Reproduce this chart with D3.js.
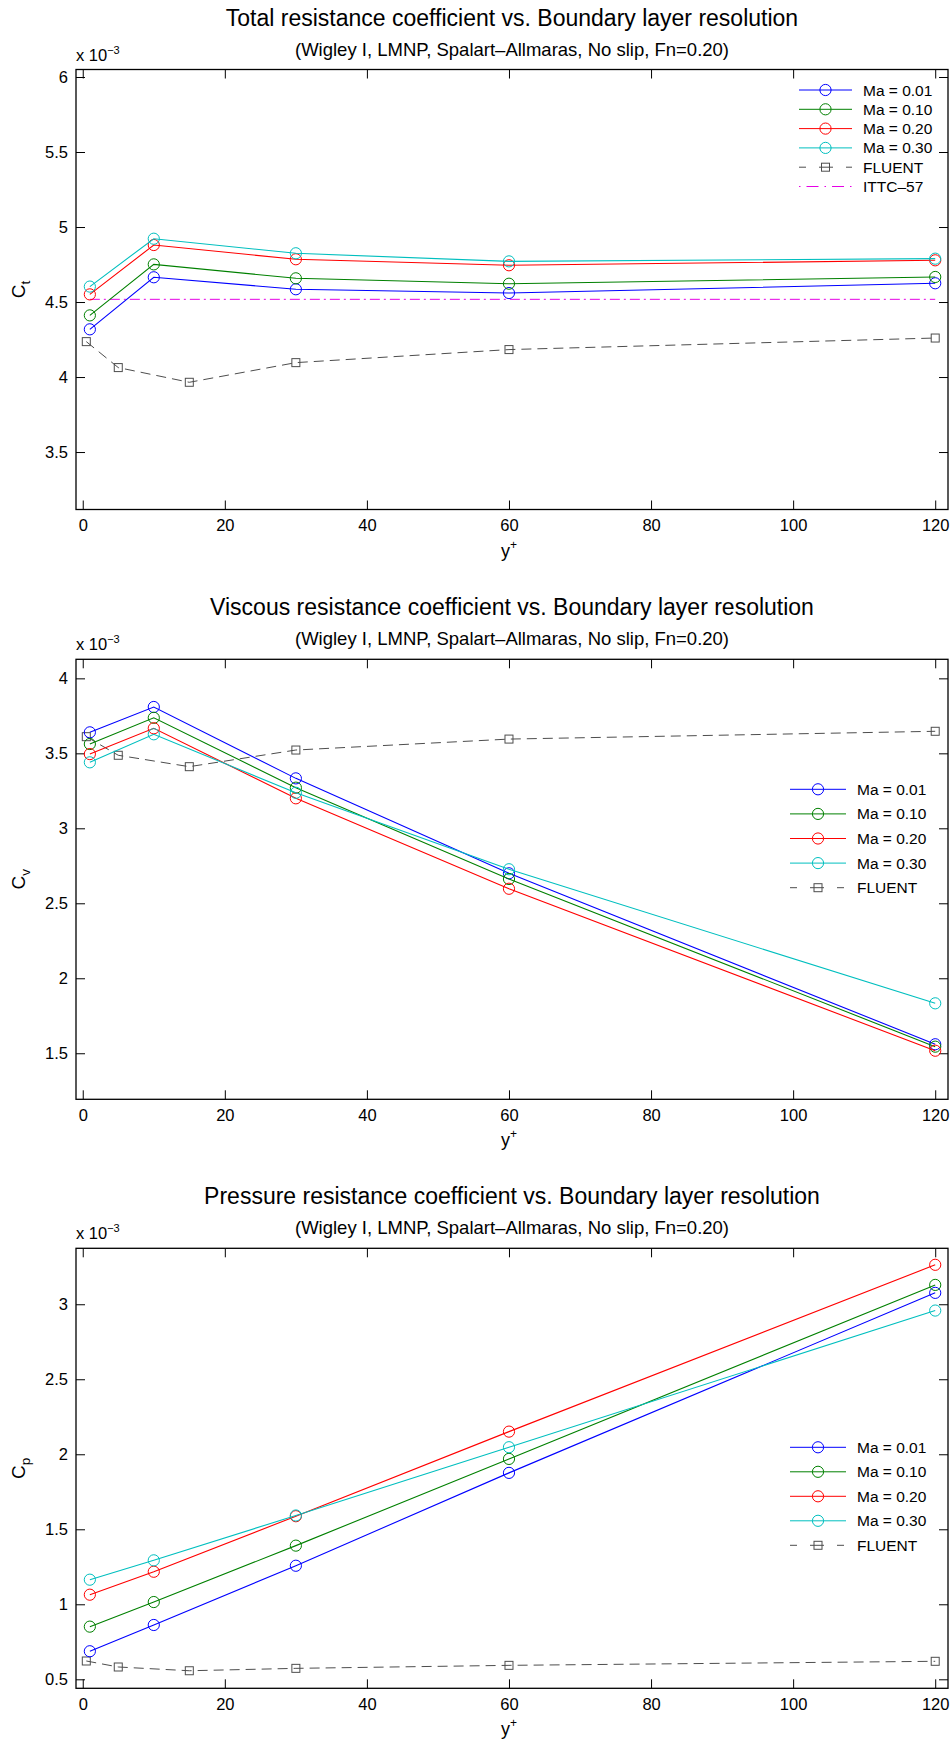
<!DOCTYPE html>
<html>
<head>
<meta charset="utf-8">
<script src="https://cdn.jsdelivr.net/npm/d3@7"></script>
<style>
body { margin: 0; background: #fff; }
text { font-family: "Liberation Sans", Arial, Helvetica, sans-serif; fill: #000; }
</style>
</head>
<body>
<svg id="chart" width="950" height="1742"></svg>
<script>
// y+ values of the runs
var yPlus = [1, 10, 30, 60, 120];
var yPlusFluent = [0.5, 5, 15, 30, 60, 120];

var machLabels = ["Ma = 0.01", "Ma = 0.10", "Ma = 0.20", "Ma = 0.30"];
var machColors = ["#0000ff", "#008000", "#ff0000", "#00bfbf"];

// total resistance coefficient (x 1e-3)
var ctMa001 = [4.318, 4.665, 4.585, 4.560, 4.625];
var ctMa010 = [4.411, 4.751, 4.658, 4.622, 4.667];
var ctMa020 = [4.551, 4.880, 4.785, 4.745, 4.778];
var ctMa030 = [4.603, 4.922, 4.825, 4.771, 4.789];
var ctFluent = [4.236, 4.063, 3.965, 4.096, 4.183, 4.260];
var ctIttc57 = 4.518;

// viscous resistance coefficient (x 1e-3)
var cvMa001 = [3.640, 3.809, 3.333, 2.700, 1.560];
var cvMa010 = [3.562, 3.737, 3.271, 2.662, 1.544];
var cvMa020 = [3.495, 3.667, 3.200, 2.597, 1.517];
var cvMa030 = [3.440, 3.627, 3.237, 2.727, 1.833];
var cvFluent = [3.611, 3.487, 3.411, 3.522, 3.595, 3.647];

// pressure resistance coefficient (x 1e-3)
var cpMa001 = [0.687, 0.862, 1.257, 1.876, 3.076];
var cpMa010 = [0.851, 1.015, 1.391, 1.969, 3.129];
var cpMa020 = [1.064, 1.217, 1.587, 2.151, 3.263];
var cpMa030 = [1.164, 1.293, 1.592, 2.047, 2.958];
var cpFluent = [0.622, 0.582, 0.557, 0.573, 0.593, 0.620];

var xTicks = [0, 20, 40, 60, 80, 100, 120];
var ctTicks = [3.5, 4, 4.5, 5, 5.5, 6];
var cvTicks = [1.5, 2, 2.5, 3, 3.5, 4];
var cpTicks = [0.5, 1, 1.5, 2, 2.5, 3];

var titles = [
    "Total resistance coefficient vs. Boundary layer resolution",
    "Viscous resistance coefficient vs. Boundary layer resolution",
    "Pressure resistance coefficient vs. Boundary layer resolution"
];
var subtitle = "(Wigley I, LMNP, Spalart\u2013Allmaras, No slip, Fn=0.20)";

var svg = d3.select("#chart");
var left = 76, right = 948, plotH = 440;
var fluentColor = "#4d4d4d", ittcColor = "#e600e6";

var panels = [
    { top: 69.5, yDomain: [3.117, 6.05], ticks: ctTicks, sub: "t",
      series: [ctMa001, ctMa010, ctMa020, ctMa030], fluent: ctFluent, ittc: ctIttc57,
      legend: { x1: 799, x2: 852, tx: 863, y0: 90, dy: 19.3 } },
    { top: 659.3, yDomain: [1.193, 4.127], ticks: cvTicks, sub: "v",
      series: [cvMa001, cvMa010, cvMa020, cvMa030], fluent: cvFluent,
      legend: { x1: 790, x2: 846, tx: 857, y0: 789.3, dy: 24.6 } },
    { top: 1248.3, yDomain: [0.44, 3.373], ticks: cpTicks, sub: "p",
      series: [cpMa001, cpMa010, cpMa020, cpMa030], fluent: cpFluent,
      legend: { x1: 790, x2: 846, tx: 857, y0: 1447.3, dy: 24.5 } }
];

var x = d3.scaleLinear().domain([-0.95, 121.8]).range([left, right]);

function drawPanel(p, idx) {
    var bottom = p.top + plotH;
    var y = d3.scaleLinear().domain(p.yDomain).range([bottom, p.top]);
    var g = svg.append("g");

    // titles
    g.append("text").attr("x", 512).attr("y", p.top - 44)
        .attr("text-anchor", "middle").style("font-size", "23px").text(titles[idx]);
    g.append("text").attr("x", 512).attr("y", p.top - 14)
        .attr("text-anchor", "middle").style("font-size", "18.5px").text(subtitle);
    var mult = g.append("text").attr("x", left).attr("y", p.top - 9).style("font-size", "16.5px");
    mult.append("tspan").text("x 10");
    mult.append("tspan").attr("dy", -7).style("font-size", "11px").text("\u22123");

    // axes, ticks pointing inwards
    var ax = function(a) {
        a.selectAll(".domain").remove();
        a.selectAll("line").attr("stroke", "#000");
        a.selectAll("text").style("font-size", "16.5px").attr("fill", "#000");
    };
    g.append("g").attr("transform", "translate(0," + bottom + ")")
        .call(d3.axisBottom(x).tickValues(xTicks).tickSizeInner(-9).tickSizeOuter(0).tickPadding(10).tickFormat(d3.format("d")))
        .call(ax);
    g.append("g").attr("transform", "translate(0," + p.top + ")")
        .call(d3.axisTop(x).tickValues(xTicks).tickSizeInner(-9).tickSizeOuter(0).tickFormat(""))
        .call(ax);
    g.append("g").attr("transform", "translate(" + left + ",0)")
        .call(d3.axisLeft(y).tickValues(p.ticks).tickSizeInner(-9).tickSizeOuter(0).tickPadding(8).tickFormat(d3.format("~g")))
        .call(ax);
    g.append("g").attr("transform", "translate(" + right + ",0)")
        .call(d3.axisRight(y).tickValues(p.ticks).tickSizeInner(-9).tickSizeOuter(0).tickFormat(""))
        .call(ax);
    g.append("rect").attr("x", left).attr("y", p.top).attr("width", right - left).attr("height", plotH)
        .attr("fill", "none").attr("stroke", "#000").attr("stroke-width", 1.3);

    // axis labels
    var yl = g.append("text").attr("transform", "translate(25," + (p.top + plotH / 2) + ") rotate(-90)")
        .attr("text-anchor", "middle").style("font-size", "19px");
    yl.append("tspan").text("C");
    yl.append("tspan").attr("dy", 5).style("font-size", "13.5px").text(p.sub);
    var xl = g.append("text").attr("x", x(60)).attr("y", bottom + 47)
        .attr("text-anchor", "middle").style("font-size", "18px");
    xl.append("tspan").text("y");
    xl.append("tspan").attr("dy", -8).style("font-size", "12px").text("+");

    var line = d3.line().x(function(d) { return x(d[0]); }).y(function(d) { return y(d[1]); });

    // ITTC-57 reference line
    if (p.ittc !== undefined) {
        g.append("path")
            .datum([[yPlus[0], p.ittc], [yPlus[yPlus.length - 1], p.ittc]])
            .attr("d", line).attr("fill", "none").attr("stroke", ittcColor)
            .attr("stroke-width", 1).attr("stroke-dasharray", "10,4,2,4");
    }

    // FLUENT
    var fl = yPlusFluent.map(function(v, i) { return [v, p.fluent[i]]; });
    g.append("path").datum(fl).attr("d", line).attr("fill", "none")
        .attr("stroke", fluentColor).attr("stroke-width", 1).attr("stroke-dasharray", "10,6");
    g.selectAll(".fsq").data(fl).enter().append("rect")
        .attr("x", function(d) { return x(d[0]) - 4; })
        .attr("y", function(d) { return y(d[1]) - 4; })
        .attr("width", 8).attr("height", 8)
        .attr("fill", "none").attr("stroke", fluentColor).attr("stroke-width", 1);

    // Mach number series
    p.series.forEach(function(s, k) {
        var pts = yPlus.map(function(v, i) { return [v, s[i]]; });
        g.append("path").datum(pts).attr("d", line).attr("fill", "none")
            .attr("stroke", machColors[k]).attr("stroke-width", 1.1);
        g.selectAll(".c" + k).data(pts).enter().append("circle")
            .attr("cx", function(d) { return x(d[0]); })
            .attr("cy", function(d) { return y(d[1]); })
            .attr("r", 5.6).attr("fill", "none").attr("stroke", machColors[k]).attr("stroke-width", 1);
    });

    // legend
    var L = p.legend, mid = (L.x1 + L.x2) / 2;
    var names = machLabels.concat(["FLUENT"]);
    if (p.ittc !== undefined) names.push("ITTC\u201357");
    names.forEach(function(name, k) {
        var ry = L.y0 + k * L.dy;
        var ln = g.append("line").attr("x1", L.x1).attr("x2", L.x2).attr("y1", ry).attr("y2", ry)
            .attr("stroke-width", 1);
        if (k < 4) {
            ln.attr("stroke", machColors[k]);
            g.append("circle").attr("cx", mid).attr("cy", ry).attr("r", 5.6)
                .attr("fill", "#fff").attr("stroke", machColors[k]);
            g.append("line").attr("x1", mid - 5.6).attr("x2", mid + 5.6).attr("y1", ry).attr("y2", ry)
                .attr("stroke", machColors[k]);
        } else if (name === "FLUENT") {
            ln.attr("stroke", fluentColor).attr("stroke-dasharray", "7,13,14,13,7");
            g.append("rect").attr("x", mid - 4).attr("y", ry - 4).attr("width", 8).attr("height", 8)
                .attr("fill", "none").attr("stroke", fluentColor);
        } else {
            ln.attr("stroke", ittcColor).attr("stroke-dasharray", "1.5,6,12,6");
        }
        g.append("text").attr("x", L.tx).attr("y", ry).attr("dy", "0.36em")
            .style("font-size", "15.5px").text(name);
    });
}

panels.forEach(drawPanel);
</script>
</body>
</html>
